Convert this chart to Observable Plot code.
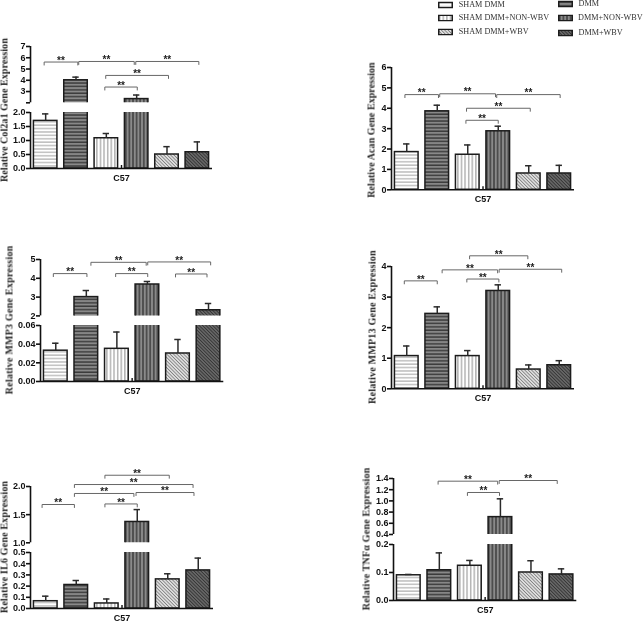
<!DOCTYPE html>
<html>
<head>
<meta charset="utf-8">
<script src="https://cdn.jsdelivr.net/npm/d3@7"></script>
<script src="https://cdn.jsdelivr.net/npm/@observablehq/plot@0.6"></script>
<style>
  html,body{margin:0;padding:0;background:#fff;}
  body{position:relative;width:644px;height:622px;overflow:hidden;}
  .ylab{position:absolute;white-space:nowrap;font:bold 10px "Liberation Serif",serif;color:#222;transform:translate(-50%,-50%) rotate(-90deg);}
  .leg{position:absolute;white-space:nowrap;font:8.2px/1 "Liberation Serif",serif;color:#333;transform:translateY(-50%);}
  .sw{position:absolute;transform:translateY(-50%);}
  svg.plot-svg{position:absolute;will-change:transform;}
</style>
</head>
<body>
<svg width="0" height="0" style="position:absolute">
  <defs>
    <pattern id="p0" width="4" height="3.4" patternUnits="userSpaceOnUse"><rect width="4" height="3.4" fill="#fff"/><rect y="1.2" width="4" height="1.1" fill="#a8a8a8"/></pattern>
    <pattern id="p1" width="4" height="3.4" patternUnits="userSpaceOnUse"><rect width="4" height="3.4" fill="#8a8a8a"/><rect y="1.1" width="4" height="1.5" fill="#3c3c3c"/></pattern>
    <pattern id="p2" width="3.6" height="4" patternUnits="userSpaceOnUse"><rect width="3.6" height="4" fill="#fff"/><rect x="1.2" width="1" height="4" fill="#8c8c8c"/></pattern>
    <pattern id="p3" width="3.6" height="4" patternUnits="userSpaceOnUse"><rect width="3.6" height="4" fill="#8a8a8a"/><rect x="1.1" width="1.4" height="4" fill="#3c3c3c"/></pattern>
    <pattern id="p4" width="2.4" height="3" patternUnits="userSpaceOnUse" patternTransform="rotate(-45)"><rect width="2.4" height="3" fill="#ececec"/><rect x=".7" width="1" height="3" fill="#808080"/></pattern>
    <pattern id="p5" width="2.4" height="3" patternUnits="userSpaceOnUse" patternTransform="rotate(-45)"><rect width="2.4" height="3" fill="#777"/><rect x=".6" width="1.2" height="3" fill="#333"/></pattern>
  </defs>
</svg>
<script>
const groupNames = ["SHAM DMM","DMM","SHAM DMM+NON-WBV","DMM+NON-WBV","SHAM DMM+WBV","DMM+WBV"];
const axisCategory = "C57";

const col2a1Means = [1.7,4.0,1.08,2.33,0.5,0.58];
const col2a1Tops  = [1.95,4.28,1.25,2.69,0.78,0.95];
const col2a1Brackets = [[.45,1.56,5.62],[1.59,3.42,5.67],[3.47,5.55,5.67],[2.48,4.55,4.43],[2.45,3.52,3.4]];

const acanMeans = [1.85,3.85,1.72,2.87,0.8,0.8];
const acanTops  = [2.25,4.15,2.2,3.12,1.18,1.2];
const acanBrackets = [[.44,1.54,4.67],[1.58,3.41,4.71],[3.45,5.53,4.67],[2.46,4.55,4.0],[2.44,3.5,3.41]];

const mmp3Means = [0.033,3.0,0.035,3.67,0.03,2.3];
const mmp3Tops  = [0.041,3.35,0.053,3.83,0.045,2.66];
const mmp3Brackets = [[.42,1.52,4.25],[1.65,3.46,4.85],[3.51,5.57,4.87],[2.46,3.51,4.25],[4.42,5.45,4.23]];

const mmp13Means = [1.07,2.45,1.07,3.2,0.63,0.77];
const mmp13Tops  = [1.4,2.68,1.25,3.4,0.78,0.92];
const mmp13Brackets = [[.42,1.5,3.53],[1.66,3.48,3.89],[3.53,5.58,3.91],[2.56,4.47,4.35],[2.47,3.52,3.59]];

const il6Means = [0.065,0.21,0.045,1.37,0.26,0.34];
const il6Tops  = [0.11,0.25,0.085,1.59,0.31,0.45];
const il6Brackets = [[.38,1.44,1.68],[1.44,3.39,1.876],[3.46,5.36,1.893],[1.44,5.33,2.035],[2.44,4.55,2.2],[2.44,3.5,1.69]];

const tnfMeans = [0.09,0.108,0.124,0.71,0.1,0.093];
const tnfTops  = [0.093,0.17,0.143,1.037,0.142,0.113];
const tnfBrackets = [[1.46,3.41,1.352],[3.46,5.36,1.364],[2.42,3.47,1.15]];

const layout = [
 {label:"Relative Col2a1 Gene Expression",lx:4,ly:110,len:144,x0:30,x1:212,means:col2a1Means,tops:col2a1Tops,brackets:col2a1Brackets,
  segs:[{dom:[0,2],ticks:[0,.5,1,1.5,2],fmt:".1f",b:167.7,t:111.7},{dom:[2,7],ticks:[2,3,4,5,6,7],fmt:d=>d===2?"":String(d),b:102,t:45.7}]},
 {label:"Relative Acan Gene Expression",lx:371,ly:129.5,len:135,x0:391,x1:574,means:acanMeans,tops:acanTops,brackets:acanBrackets,
  segs:[{dom:[0,6],ticks:[0,1,2,3,4,5,6],fmt:"d",b:189,t:66.7}]},
 {label:"Relative MMP3 Gene Expression",lx:9.3,ly:319.7,len:149,x0:40.4,x1:223.7,means:mmp3Means,tops:mmp3Tops,brackets:mmp3Brackets,
  segs:[{dom:[0,.06],ticks:[0,.02,.04,.06],fmt:".2f",b:381,t:325},{dom:[2,5],ticks:[2,3,4,5],fmt:"d",b:315.7,t:259.3}]},
 {label:"Relative MMP13 Gene Expression",lx:372.3,ly:327,len:154,x0:391,x1:574,means:mmp13Means,tops:mmp13Tops,brackets:mmp13Brackets,
  segs:[{dom:[0,4],ticks:[0,1,2,3,4],fmt:"d",b:388.3,t:266}]},
 {label:"Relative IL6 Gene Expression",lx:4,ly:547,len:132,x0:30,x1:213,means:il6Means,tops:il6Tops,brackets:il6Brackets,
  segs:[{dom:[0,.5],ticks:[0,.1,.2,.3,.4,.5],fmt:".1f",b:607.7,t:551.7},{dom:[1,2],ticks:[1,1.5,2],fmt:".1f",b:542,t:485.7}]},
 {label:"Relative TNF\u03b1  Gene Expression",lx:366,ly:539,len:142.7,x0:392.7,x1:576,means:tnfMeans,tops:tnfTops,brackets:tnfBrackets,
  segs:[{dom:[0,.2],ticks:[0,.1,.2],fmt:".1f",b:599.7,t:543.7},{dom:[.4,1.4],ticks:[.4,.6,.8,1,1.2,1.4],fmt:".1f",b:534.3,t:478.3}]}
];

const halfBar = .3875, capHalf = .105, ML = 32, MT = 60, MR = 8;

for (const p of layout) {
  const data = p.means.map((m,i)=>({i,m,top:p.tops[i],fill:`url(#p${i})`}));
  const splitAt = p.segs.length>1 ? p.segs[1].dom[0] : Infinity;
  p.segs.forEach((s,si)=>{
    const upper = si===1, single = p.segs.length===1, lowest = si===0;
    const MB = lowest?14:2;
    const H = s.b-s.t, span = s.dom[1]-s.dom[0], pxU = H/span;
    const over = span*.3;
    const rows = upper ? data.filter(d=>d.m>s.dom[0]) : data;
    const errs = data.filter(d => upper ? d.m>=splitAt : d.m<splitAt);
    const marks = [
      Plot.rect(rows,{x1:d=>d.i+.5-halfBar,x2:d=>d.i+.5+halfBar,
        y1:upper?s.dom[0]-over:0,y2:d=>upper?d.m:Math.min(d.m,s.dom[1]+over),
        fill:"fill",stroke:"#1c1c1c",strokeWidth:1.5,clip:"frame"}),
      Plot.ruleX(errs,{x:d=>d.i+.5,y1:"m",y2:"top",stroke:"#2a2a2a",strokeWidth:1.5}),
      Plot.ruleY(errs,{y:"top",x1:d=>d.i+.5-capHalf,x2:d=>d.i+.5+capHalf,stroke:"#2a2a2a",strokeWidth:1.5}),
      Plot.ruleX([0],{y1:s.dom[0],y2:s.dom[1],stroke:"#111",strokeWidth:1.6}),
      Plot.axisY({ticks:s.ticks,tickFormat:s.fmt,tickSize:4,tickPadding:1,strokeWidth:1.6,stroke:"#111",fontWeight:"bold",fontSize:9,label:null,fill:"#111"})
    ];
    if (lowest) marks.push(
      Plot.ruleY([0],{x1:0,x2:6,stroke:"#111",strokeWidth:1.6}),
      Plot.ruleX([3],{y1:0,y2:3/pxU,stroke:"#111",strokeWidth:1.4}),
      Plot.axisX({ticks:[3],tickFormat:()=>axisCategory,tickSize:0,tickPadding:6,fontWeight:"bold",fontSize:9,label:null,fill:"#111"})
    );
    if (upper||single) {
      const drop = 3/pxU;
      const path = p.brackets.flatMap((b,k)=>[
        {k,x:b[0],y:b[2]-drop},{k,x:b[0],y:b[2]},{k,x:b[1],y:b[2]},{k,x:b[1],y:b[2]-drop}]);
      marks.push(
        Plot.line(path,{x:"x",y:"y",z:"k",stroke:"#666",strokeWidth:1,curve:"linear"}),
        Plot.text(p.brackets,{x:b=>(b[0]+b[1])/2,y:b=>b[2],text:()=>"**",dy:-1.5,fontWeight:"bold",fontSize:10,fill:"#222",lineAnchor:"middle"})
      );
    }
    const svg = Plot.plot({
      width:(p.x1-p.x0)+ML+MR, height:H+MT+MB,
      marginLeft:ML,marginRight:MR,marginTop:MT,marginBottom:MB,
      x:{domain:[0,6],axis:null},
      y:{domain:s.dom,axis:null},
      color:{type:"identity"},
      style:{background:"transparent",overflow:"visible",fontFamily:"'Liberation Sans',Arial,sans-serif",maxWidth:"none"},
      marks
    });
    svg.classList.add("plot-svg");
    svg.style.left=(p.x0-ML)+"px";
    svg.style.top=(s.t-MT)+"px";
    document.body.appendChild(svg);
  });
  const lab=document.createElement("div");
  lab.className="ylab"; lab.textContent=p.label;
  lab.style.left=p.lx+"px"; lab.style.top=p.ly+"px";
  document.body.appendChild(lab);
  lab.style.letterSpacing=((p.len-lab.offsetWidth)/p.label.length)+"px";
}

// legend, read in groupNames order
const legendSpots=[[437.5,458.7,5.3],[558,578.5,4],[437.5,458.7,18],[558,578,17.5],[437.5,458.7,31.7],[558,578.5,33]];
groupNames.forEach((n,i)=>{
  const [sx,tx,y]=legendSpots[i];
  const sw=document.createElementNS("http://www.w3.org/2000/svg","svg");
  sw.setAttribute("width",15);sw.setAttribute("height",7);sw.setAttribute("class","sw");
  sw.style.left=sx+"px";sw.style.top=y+"px";
  sw.innerHTML=`<rect x=".75" y=".75" width="13.5" height="5.5" fill="url(#p${i})" stroke="#1c1c1c" stroke-width="1.5"/>`;
  document.body.appendChild(sw);
  const t=document.createElement("div");
  t.className="leg";t.textContent=n;t.style.left=tx+"px";t.style.top=y+"px";
  document.body.appendChild(t);
});
</script>
</body>
</html>
